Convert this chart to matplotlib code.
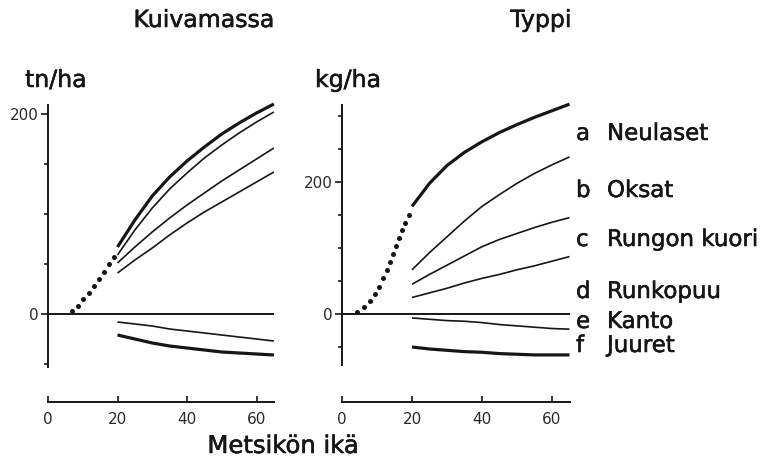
import matplotlib
matplotlib.use("Agg")
import matplotlib.pyplot as plt
import matplotlib.patheffects as pe

W, H = 773, 467
INK = "#161616"

age = [20, 25, 30, 35, 40, 45, 50, 55, 60, 65]

# Kuivamassa (tn/ha), cumulative curves a..d, e/f below zero
dm_a = [67, 94, 118, 137, 153, 167, 180, 191, 201, 210]
dm_b = [59, 84, 106, 125, 141, 156, 169, 181, 192, 202]
dm_c = [51, 67, 82, 96, 109, 121, 133, 144, 155, 166]
dm_d = [41, 54, 66, 79, 91, 102, 112, 122, 132, 142]
dm_e = [-8, -10, -12, -15, -17, -19, -21, -23, -25, -27]
dm_f = [-21, -25, -29, -32, -34, -36, -38, -39, -40, -41]
dm_dots_x = [6.8, 8.7, 10.2, 11.8, 13.2, 14.8, 16.2, 17.6, 19.1]
dm_dots_y = [3, 8, 15, 21, 28, 35, 42, 50, 57]

# Typpi (kg/ha)
n_a = [163, 198, 225, 245, 261, 275, 287, 298, 308, 318]
n_b = [67, 93, 117, 141, 163, 181, 198, 213, 226, 238]
n_c = [45, 60, 74, 88, 102, 113, 122, 131, 139, 146]
n_d = [25, 32, 39, 47, 54, 60, 67, 73, 80, 87]
n_e = [-6, -8, -10, -11, -13, -16, -18, -20, -22, -23]
n_f = [-50, -53, -55, -57, -58, -60, -61, -62, -62, -62]
n_dots_x = [4.2, 6.4, 8.0, 9.4, 10.7, 11.8, 12.8, 13.7, 14.5, 15.3, 16.2, 17.0, 18.1, 19.1]
n_dots_y = [3, 11, 20, 30, 41, 54, 67, 79, 91, 103, 115, 127, 138, 150]

letters = ["a", "b", "c", "d", "e", "f"]
parts = ["Neulaset", "Oksat", "Rungon kuori", "Runkopuu", "Kanto", "Juuret"]
x_ticks = [0, 20, 40, 60]

heavy = [pe.withStroke(linewidth=0.4, foreground=INK)]


def place(origin, scale, xlim, ylim):
    # axes rect so that data (0,0) lands on origin pixel
    x0, y0 = origin
    sx, sy = scale
    left = (x0 + xlim[0] * sx) / W
    bottom = (H - (y0 - ylim[0] * sy)) / H
    return [left, bottom, (xlim[1] - xlim[0]) * sx / W, (ylim[1] - ylim[0]) * sy / H]


def panel(ax, series, dots, y_span, x_axis_at, minor, xlim, ylim):
    ax.set_xlim(*xlim); ax.set_ylim(*ylim)
    for s, lw in zip(series, [2.3, 1.2, 1.2, 1.2, 1.2, 2.3]):
        ax.plot(age, s, color=INK, lw=lw, solid_capstyle="butt", solid_joinstyle="round")
    ax.plot(dots[0], dots[1], "o", color=INK, ms=3.6, mec="none")
    ax.hlines(0, 0, age[-1], color=INK, lw=1.4)
    for side in ["top", "right"]:
        ax.spines[side].set_visible(False)
    ax.spines["left"].set_position(("data", 0))
    ax.spines["left"].set_bounds(*y_span)
    ax.spines["bottom"].set_position(("data", x_axis_at))
    ax.spines["bottom"].set_bounds(0, age[-1])
    for sp in ["left", "bottom"]:
        ax.spines[sp].set_linewidth(1.4)
        ax.spines[sp].set_color(INK)
    ax.set_yticks([0, 200])
    ax.set_yticks(minor, minor=True)
    ax.set_xticks(x_ticks)
    ax.tick_params(axis="y", which="major", direction="out", length=5, width=1.2,
                   pad=1.5, labelsize=11, colors=INK, labelcolor="#2a2a2a")
    ax.tick_params(axis="y", which="minor", direction="out", length=3, width=1.2, colors=INK)
    ax.tick_params(axis="x", direction="in", length=4, width=1.2, pad=7,
                   labelsize=11, colors=INK, labelcolor="#2a2a2a")
    ax.patch.set_alpha(0)


fig = plt.figure(figsize=(W / 100, H / 100), dpi=100)

xlim = (-3, 68)
ax1 = fig.add_axes(place((48, 314), (3.475, 1.0), xlim, (-100, 215)))
panel(ax1, [dm_a, dm_b, dm_c, dm_d, dm_e, dm_f], (dm_dots_x, dm_dots_y),
      (-53, 209), -88, [-50, 50, 100, 150], xlim, (-100, 215))

ax2 = fig.add_axes(place((342, 314), (3.5, 0.66), xlim, (-150, 322)))
panel(ax2, [n_a, n_b, n_c, n_d, n_e, n_f], (n_dots_x, n_dots_y),
      (-77, 317), -133, [-50, 50, 100, 150, 250, 300], xlim, (-150, 322))


def ftext(x, y, s, size, **kw):
    fig.text(x / W, 1 - y / H, s, fontsize=size, color=INK, va="baseline",
             path_effects=heavy, **kw)


ftext(204, 27, "Kuivamassa", 17, ha="center")
ftext(541, 27, "Typpi", 17, ha="center")
ftext(25, 87, "tn/ha", 17)
ftext(315, 87, "kg/ha", 17)
ftext(283, 453, "Metsikön ikä", 17.5, ha="center")

label_y = [140, 197, 246, 298, 328, 352]
for l, p, y in zip(letters, parts, label_y):
    ftext(576, y, l, 16.5)
    ftext(607, y, p, 16.5)

plt.savefig("out.png", dpi=100)
